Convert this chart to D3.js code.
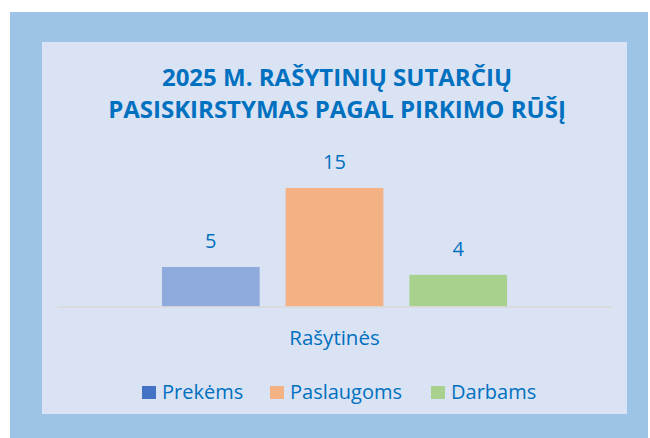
<!DOCTYPE html>
<html lang="lt">
<head>
	<meta charset="utf-8">
	<title>2025 m. rašytinių sutarčių pasiskirstymas</title>
	<script src="https://d3js.org/d3.v7.min.js"></script>
	<style>
		body {margin:0; background:#fff;}
		svg text {font-family:"Open Sans", "Liberation Sans", sans-serif; fill:#0070C0;}
	</style>
</head>
<body>
	<div id="chart"></div>
	<script>
		// chart data
		const categories = ["Rašytinės"];
		const seriesNames = ["Prekėms", "Paslaugoms", "Darbams"];
		const seriesValues = [5, 15, 4];
		const titleLines = ["2025 M. RAŠYTINIŲ SUTARČIŲ", "PASISKIRSTYMAS PAGAL PIRKIMO RŪŠĮ"];

		const barColors = ["#8FAADC", "#F4B183", "#A9D18E"];
		const legendColors = ["#4472C4", "#F4B183", "#A9D18E"];

		const width = 650, height = 438;
		const svg = d3.select("#chart").append("svg")
			.attr("width", width)
			.attr("height", height);

		// outer frame and inner panel
		svg.append("rect").attr("x", 10).attr("y", 12).attr("width", 638).attr("height", 426).attr("fill", "#9DC3E6");
		svg.append("rect").attr("x", 42).attr("y", 42).attr("width", 585).attr("height", 372).attr("fill", "#DAE3F3");

		// title
		svg.append("text")
			.attr("text-anchor", "middle")
			.style("font-weight", "bold")
			.style("font-size", "24px")
			.selectAll("tspan")
			.data(titleLines)
			.enter()
			.append("tspan")
			.attr("x", 337)
			.attr("y", function (d, i) { return 86 + i * 32; })
			.text(function (d) { return d; });

		// scales
		const x0 = d3.scaleBand().domain(categories).range([57, 612]).paddingInner(0).paddingOuter(0.304);
		const x1 = d3.scaleBand().domain(seriesNames).range([0, x0.bandwidth()]).paddingInner(0.21).paddingOuter(0);
		const y = d3.scaleLinear().domain([0, 16]).range([306.5, 180]);

		const rows = seriesNames.map(function (s, i) { return {name: s, value: seriesValues[i], color: barColors[i]}; });

		const g = svg.append("g").attr("transform", "translate(" + x0(categories[0]) + ",0)");
		g.selectAll("rect")
			.data(rows)
			.enter()
			.append("rect")
			.attr("x", function (d) { return x1(d.name); })
			.attr("y", function (d) { return y(d.value); })
			.attr("width", x1.bandwidth())
			.attr("height", function (d) { return y(0) - y(d.value); })
			.attr("fill", function (d) { return d.color; });

		// value labels above the bars
		g.selectAll("text.val")
			.data(rows)
			.enter()
			.append("text")
			.attr("class", "val")
			.attr("x", function (d) { return x1(d.name) + x1.bandwidth() / 2; })
			.attr("y", function (d) { return y(d.value) - 19; })
			.attr("text-anchor", "middle")
			.style("font-size", "20px")
			.text(function (d) { return d.value; });

		// category axis
		const xAxis = d3.axisBottom(x0).tickSize(0).tickPadding(24);
		const axisG = svg.append("g").attr("transform", "translate(0," + y(0) + ")").call(xAxis);
		axisG.attr("font-size", null).attr("font-family", null);
		axisG.select(".domain").attr("stroke", "#D9D9D9").attr("stroke-width", 1.5);
		axisG.selectAll("text")
			.style("font-size", "20.5px")
			.attr("fill", "#0070C0");

		// legend
		const legendX = [142, 270, 431];
		const legend = svg.selectAll("g.legend")
			.data(seriesNames)
			.enter()
			.append("g")
			.attr("class", "legend")
			.attr("transform", function (d, i) { return "translate(" + legendX[i] + ",386)"; });
		legend.append("rect")
			.attr("width", 14)
			.attr("height", 13)
			.attr("fill", function (d, i) { return legendColors[i]; });
		legend.append("text")
			.attr("x", 20)
			.attr("y", 13)
			.style("font-size", "20px")
			.text(function (d) { return d; });
	</script>
</body>
</html>
